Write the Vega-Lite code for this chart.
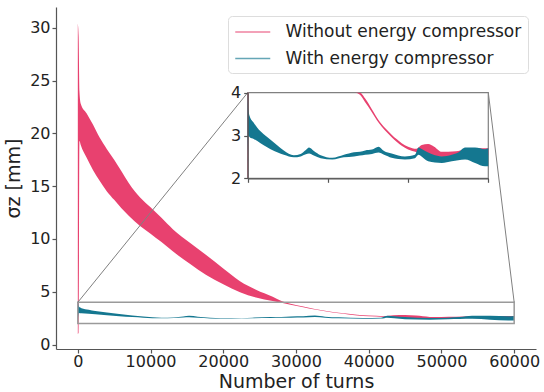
{
  "$schema": "https://vega.github.io/schema/vega-lite/v6.json",
  "width": 480,
  "height": 342,
  "autosize": {"type": "none"},
  "padding": {"left": 56, "top": 7, "right": 8, "bottom": 43},
  "background": "white",
  "config": {
    "view": {"stroke": null},
    "font": "DejaVu Sans",
    "axis": {
      "grid": false,
      "labelFont": "DejaVu Sans",
      "titleFont": "DejaVu Sans",
      "labelFontSize": 16,
      "titleFontSize": 19,
      "titleFontWeight": "normal",
      "labelColor": "#222222",
      "titleColor": "#222222",
      "domainColor": "#555555",
      "tickColor": "#555555",
      "domainWidth": 1.2,
      "tickWidth": 1.2,
      "tickSize": 4,
      "labelPadding": 2,
      "labelOverlap": false
    },
    "legend": {"labelFont": "DejaVu Sans"}
  },
  "datasets": {
    "without": [
      {"turns": 0, "lo": 1.0, "hi": 30.4, "series": "Without energy compressor"},
      {"turns": 110, "lo": 1.2, "hi": 29.2, "series": "Without energy compressor"},
      {"turns": 220, "lo": 19.3, "hi": 24.0, "series": "Without energy compressor"},
      {"turns": 400, "lo": 18.9, "hi": 22.8, "series": "Without energy compressor"},
      {"turns": 1200, "lo": 17.7, "hi": 21.9, "series": "Without energy compressor"},
      {"turns": 2100, "lo": 16.5, "hi": 20.8, "series": "Without energy compressor"},
      {"turns": 3000, "lo": 15.5, "hi": 19.6, "series": "Without energy compressor"},
      {"turns": 4000, "lo": 14.5, "hi": 18.5, "series": "Without energy compressor"},
      {"turns": 5000, "lo": 13.7, "hi": 17.5, "series": "Without energy compressor"},
      {"turns": 6000, "lo": 12.9, "hi": 16.4, "series": "Without energy compressor"},
      {"turns": 7000, "lo": 12.2, "hi": 15.3, "series": "Without energy compressor"},
      {"turns": 8600, "lo": 11.2, "hi": 13.9, "series": "Without energy compressor"},
      {"turns": 10000, "lo": 10.5, "hi": 13.0, "series": "Without energy compressor"},
      {"turns": 11500, "lo": 9.7, "hi": 12.0, "series": "Without energy compressor"},
      {"turns": 13100, "lo": 8.8, "hi": 10.9, "series": "Without energy compressor"},
      {"turns": 15500, "lo": 7.6, "hi": 9.6, "series": "Without energy compressor"},
      {"turns": 17600, "lo": 6.6, "hi": 8.5, "series": "Without energy compressor"},
      {"turns": 20000, "lo": 5.7, "hi": 7.2, "series": "Without energy compressor"},
      {"turns": 22300, "lo": 4.95, "hi": 6.0, "series": "Without energy compressor"},
      {"turns": 24500, "lo": 4.45, "hi": 5.2, "series": "Without energy compressor"},
      {"turns": 26800, "lo": 4.12, "hi": 4.52, "series": "Without energy compressor"},
      {"turns": 28000, "lo": 3.95, "hi": 4.12, "series": "Without energy compressor"},
      {"turns": 29250, "lo": 3.78, "hi": 3.87, "series": "Without energy compressor"},
      {"turns": 31000, "lo": 3.54, "hi": 3.61, "series": "Without energy compressor"},
      {"turns": 32570, "lo": 3.31, "hi": 3.37, "series": "Without energy compressor"},
      {"turns": 34200, "lo": 3.12, "hi": 3.18, "series": "Without energy compressor"},
      {"turns": 35900, "lo": 2.96, "hi": 3.02, "series": "Without energy compressor"},
      {"turns": 37200, "lo": 2.85, "hi": 2.91, "series": "Without energy compressor"},
      {"turns": 38400, "lo": 2.76, "hi": 2.82, "series": "Without energy compressor"},
      {"turns": 40000, "lo": 2.67, "hi": 2.74, "series": "Without energy compressor"},
      {"turns": 42100, "lo": 2.61, "hi": 2.69, "series": "Without energy compressor"},
      {"turns": 43400, "lo": 2.58, "hi": 2.78, "series": "Without energy compressor"},
      {"turns": 45000, "lo": 2.55, "hi": 2.8, "series": "Without energy compressor"},
      {"turns": 46500, "lo": 2.52, "hi": 2.74, "series": "Without energy compressor"},
      {"turns": 48400, "lo": 2.5, "hi": 2.62, "series": "Without energy compressor"},
      {"turns": 50000, "lo": 2.5, "hi": 2.62, "series": "Without energy compressor"},
      {"turns": 52000, "lo": 2.52, "hi": 2.63, "series": "Without energy compressor"},
      {"turns": 54000, "lo": 2.52, "hi": 2.68, "series": "Without energy compressor"},
      {"turns": 56700, "lo": 2.54, "hi": 2.71, "series": "Without energy compressor"},
      {"turns": 60000, "lo": 2.55, "hi": 2.7, "series": "Without energy compressor"}
    ],
    "with": [
      {"turns": 0, "lo": 2.35, "hi": 4.2, "series": "With energy compressor"},
      {"turns": 150, "lo": 3.0, "hi": 3.6, "series": "With energy compressor"},
      {"turns": 500, "lo": 2.96, "hi": 3.45, "series": "With energy compressor"},
      {"turns": 1500, "lo": 2.92, "hi": 3.3, "series": "With energy compressor"},
      {"turns": 2400, "lo": 2.87, "hi": 3.18, "series": "With energy compressor"},
      {"turns": 4000, "lo": 2.77, "hi": 3.03, "series": "With energy compressor"},
      {"turns": 5700, "lo": 2.68, "hi": 2.9, "series": "With energy compressor"},
      {"turns": 7500, "lo": 2.6, "hi": 2.76, "series": "With energy compressor"},
      {"turns": 9000, "lo": 2.55, "hi": 2.65, "series": "With energy compressor"},
      {"turns": 11500, "lo": 2.49, "hi": 2.54, "series": "With energy compressor"},
      {"turns": 13200, "lo": 2.51, "hi": 2.57, "series": "With energy compressor"},
      {"turns": 14500, "lo": 2.56, "hi": 2.66, "series": "With energy compressor"},
      {"turns": 15300, "lo": 2.58, "hi": 2.72, "series": "With energy compressor"},
      {"turns": 16500, "lo": 2.53, "hi": 2.64, "series": "With energy compressor"},
      {"turns": 18200, "lo": 2.47, "hi": 2.54, "series": "With energy compressor"},
      {"turns": 21100, "lo": 2.44, "hi": 2.48, "series": "With energy compressor"},
      {"turns": 24000, "lo": 2.49, "hi": 2.55, "series": "With energy compressor"},
      {"turns": 26500, "lo": 2.51, "hi": 2.61, "series": "With energy compressor"},
      {"turns": 28000, "lo": 2.53, "hi": 2.62, "series": "With energy compressor"},
      {"turns": 29300, "lo": 2.55, "hi": 2.65, "series": "With energy compressor"},
      {"turns": 31000, "lo": 2.57, "hi": 2.67, "series": "With energy compressor"},
      {"turns": 32600, "lo": 2.6, "hi": 2.74, "series": "With energy compressor"},
      {"turns": 34000, "lo": 2.55, "hi": 2.64, "series": "With energy compressor"},
      {"turns": 35900, "lo": 2.48, "hi": 2.58, "series": "With energy compressor"},
      {"turns": 39200, "lo": 2.44, "hi": 2.51, "series": "With energy compressor"},
      {"turns": 41700, "lo": 2.47, "hi": 2.55, "series": "With energy compressor"},
      {"turns": 42600, "lo": 2.55, "hi": 2.72, "series": "With energy compressor"},
      {"turns": 43500, "lo": 2.5, "hi": 2.68, "series": "With energy compressor"},
      {"turns": 45000, "lo": 2.4, "hi": 2.6, "series": "With energy compressor"},
      {"turns": 48400, "lo": 2.36, "hi": 2.51, "series": "With energy compressor"},
      {"turns": 50900, "lo": 2.4, "hi": 2.55, "series": "With energy compressor"},
      {"turns": 52500, "lo": 2.42, "hi": 2.6, "series": "With energy compressor"},
      {"turns": 54200, "lo": 2.44, "hi": 2.72, "series": "With energy compressor"},
      {"turns": 56700, "lo": 2.36, "hi": 2.72, "series": "With energy compressor"},
      {"turns": 59200, "lo": 2.28, "hi": 2.68, "series": "With energy compressor"},
      {"turns": 60000, "lo": 2.28, "hi": 2.7, "series": "With energy compressor"}
    ],
    "zoombox": [{"x": 0, "x2": 60000, "y": 2, "y2": 4}],
    "connectors": [
      {"x": 0, "y": 4, "x2": 23359, "y2": 23.85},
      {"x": 60000, "y": 4, "x2": 56441, "y2": 23.85}
    ]
  },
  "layer": [
    {
      "layer": [
        {
          "data": {"name": "without"},
          "mark": {"type": "area", "interpolate": "monotone"},
          "encoding": {
            "x": {"field": "turns", "type": "quantitative",
              "scale": {"domain": [-3000, 63000], "nice": false, "zero": false},
              "axis": {"values": [0, 10000, 20000, 30000, 40000, 50000, 60000], "title": "Number of turns", "format": "d", "labelPadding": 0, "titlePadding": 3}},
            "y": {"field": "lo", "type": "quantitative",
              "scale": {"domain": [-0.42, 31.96], "nice": false, "zero": false},
              "axis": {"values": [0, 5, 10, 15, 20, 25, 30], "title": "σz [mm]", "titlePadding": 6}},
            "y2": {"field": "hi"},
            "color": {"field": "series", "type": "nominal",
              "scale": {"domain": ["Without energy compressor", "With energy compressor"], "range": ["#e8416f", "#147790"]},
              "legend": {
                "title": null, "orient": "none", "legendX": 172, "legendY": 9,
                "symbolType": "M-2,0H2", "symbolSize": 306.25, "symbolStrokeWidth": 1.6,
                "symbolOpacity": 0.65, "symbolOffset": 8.75,
                "labelFontSize": 17, "labelColor": "#222222", "labelOffset": 22.75,
                "rowPadding": 8.5, "padding": 6,
                "strokeColor": "#dddddd", "fillColor": "white", "cornerRadius": 4,
                "labelLimit": 400,
                "encode": {"symbols": {"update": {"stroke": {"scale": "color", "field": "value"}, "fill": {"value": "transparent"}}}}
              }}
          }
        },
        {
          "data": {"name": "with"},
          "mark": {"type": "area", "interpolate": "monotone"},
          "encoding": {
            "x": {"field": "turns", "type": "quantitative"},
            "y": {"field": "lo", "type": "quantitative"},
            "y2": {"field": "hi"},
            "color": {"field": "series", "type": "nominal"}
          }
        },
        {
          "data": {"name": "zoombox"},
          "mark": {"type": "rect", "fill": null, "stroke": "#9a9a9a", "strokeWidth": 1.5},
          "encoding": {
            "x": {"field": "x", "type": "quantitative"},
            "x2": {"field": "x2"},
            "y": {"field": "y", "type": "quantitative"},
            "y2": {"field": "y2"}
          }
        },
        {
          "data": {"name": "connectors"},
          "mark": {"type": "rule", "color": "#808080", "strokeWidth": 1},
          "encoding": {
            "x": {"field": "x", "type": "quantitative"},
            "x2": {"field": "x2"},
            "y": {"field": "y", "type": "quantitative"},
            "y2": {"field": "y2"}
          }
        }
      ]
    },
    {
      "layer": [
        {
          "data": {"name": "zoombox"},
          "mark": {"type": "rect", "fill": "white", "stroke": "#808080", "strokeWidth": 1.2},
          "encoding": {
            "x": {"field": "x", "type": "quantitative",
              "scale": {"domain": [0, 60000], "range": [191.7, 432.3], "nice": false, "zero": false},
              "axis": {"orient": "bottom", "offset": -170.7, "values": [0, 20000, 40000, 60000], "labels": false, "title": null, "tickSize": 4, "zindex": 1}},
            "x2": {"field": "x2"},
            "y": {"field": "y", "type": "quantitative",
              "scale": {"domain": [2, 4], "range": [171.3, 85.7], "nice": false, "zero": false, "clamp": true},
              "axis": {"orient": "left", "offset": -191.7, "values": [2, 3, 4], "format": ".0f", "title": null, "tickSize": 4, "zindex": 1, "labelPadding": 3, "labelOverlap": false, "labelFlush": false, "labelBound": false}},
            "y2": {"field": "y2"}
          }
        },
        {
          "data": {"name": "without"},
          "mark": {"type": "area", "interpolate": "monotone"},
          "encoding": {
            "x": {"field": "turns", "type": "quantitative"},
            "y": {"field": "lo", "type": "quantitative"},
            "y2": {"field": "hi"},
            "color": {"field": "series", "type": "nominal"}
          }
        },
        {
          "data": {"name": "with"},
          "mark": {"type": "area", "interpolate": "monotone"},
          "encoding": {
            "x": {"field": "turns", "type": "quantitative"},
            "y": {"field": "lo", "type": "quantitative"},
            "y2": {"field": "hi"},
            "color": {"field": "series", "type": "nominal"}
          }
        }
      ]
    }
  ],
  "resolve": {"scale": {"x": "independent", "y": "independent"}, "axis": {"x": "independent", "y": "independent"}}
}
